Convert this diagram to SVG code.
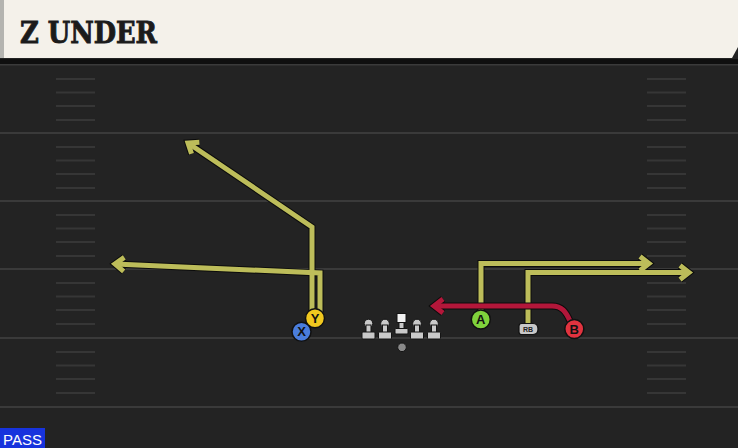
<svg xmlns="http://www.w3.org/2000/svg" width="738" height="448" viewBox="0 0 738 448">
<style>
.yl{stroke:#3a3a3a;stroke-width:2}
.hm{stroke:#363636;stroke-width:2}
.rt-o{fill:none;stroke:#0c0c0c;stroke-width:7;stroke-linejoin:miter}
.rt{fill:none;stroke:#bdbd5a;stroke-width:5;stroke-linejoin:miter}
.rr-o{fill:none;stroke:#0c0c0c;stroke-width:7}
.rr{fill:none;stroke:#b3173a;stroke-width:5}
.pl{stroke:#111;stroke-width:1.5}
.lt{font-family:"Liberation Sans",Arial,sans-serif;font-weight:bold;font-size:13px;fill:#111;text-anchor:middle}
.ln{fill:#c9c9c9;stroke:#141414;stroke-width:1}
</style>
<defs>
<marker id="ao" markerUnits="userSpaceOnUse" markerWidth="30" markerHeight="30" refX="0" refY="0" orient="auto" overflow="visible" viewBox="-15 -15 30 30">
<path d="M-9,-7 L0,0 L-9,7" fill="none" stroke="#0c0c0c" stroke-width="7"/>
</marker>
<marker id="a" markerUnits="userSpaceOnUse" markerWidth="30" markerHeight="30" refX="0" refY="0" orient="auto" overflow="visible" viewBox="-15 -15 30 30">
<path d="M-9,-7 L0,0 L-9,7" fill="none" stroke="#bdbd5a" stroke-width="5"/>
</marker>
<marker id="ar" markerUnits="userSpaceOnUse" markerWidth="30" markerHeight="30" refX="0" refY="0" orient="auto" overflow="visible" viewBox="-15 -15 30 30">
<path d="M-9,-7 L0,0 L-9,7" fill="none" stroke="#b3173a" stroke-width="5"/>
</marker>
<marker id="aro" markerUnits="userSpaceOnUse" markerWidth="30" markerHeight="30" refX="0" refY="0" orient="auto" overflow="visible" viewBox="-15 -15 30 30">
<path d="M-9,-7 L0,0 L-9,7" fill="none" stroke="#0c0c0c" stroke-width="7"/>
</marker>
<g id="lineman">
<circle cx="0" cy="323.5" r="4.3" class="ln"/>
<rect x="-2.5" y="325" width="5" height="8" class="ln"/>
<rect x="-6.5" y="332" width="13" height="7" rx="1" class="ln"/>
</g>
</defs>

<rect x="0" y="0" width="738" height="448" fill="#232323"/>

<g id="field">
<line x1="0" y1="64.5" x2="738" y2="64.5" class="yl"/>
<line x1="0" y1="133" x2="738" y2="133" class="yl"/>
<line x1="0" y1="201" x2="738" y2="201" class="yl"/>
<line x1="0" y1="269" x2="738" y2="269" class="yl"/>
<line x1="0" y1="338" x2="738" y2="338" class="yl"/>
<line x1="0" y1="407" x2="738" y2="407" class="yl"/>
<g id="hashes-left">
<path class="hm" d="M56,79H95M56,92.5H95M56,106H95M56,120H95M56,147H95M56,160.5H95M56,174H95M56,188H95M56,215H95M56,228.5H95M56,242H95M56,256H95M56,283H95M56,296.5H95M56,310H95M56,324H95M56,352H95M56,365.5H95M56,379H95M56,393H95"/>
</g>
<g id="hashes-right">
<path class="hm" d="M647,79H686M647,92.5H686M647,106H686M647,120H686M647,147H686M647,160.5H686M647,174H686M647,188H686M647,215H686M647,228.5H686M647,242H686M647,256H686M647,283H686M647,296.5H686M647,310H686M647,324H686M647,352H686M647,365.5H686M647,379H686M647,393H686"/>
</g>
</g>

<g id="header">
<rect x="0" y="59" width="738" height="5" fill="#0f0f0f"/>
<path d="M0,0 H738 V47 L732,58 H0 Z" fill="#f4f1ea"/>
<rect x="0" y="0" width="4" height="58" fill="#b4b4b0"/>
<text x="20" y="43" font-family="'DejaVu Serif Condensed','DejaVu Serif',serif" font-weight="bold" font-size="29" fill="#1b1b1b" stroke="#1b1b1b" stroke-width="0.8" textLength="137" lengthAdjust="spacingAndGlyphs">Z UNDER</text>
</g>

<g id="connectors">
<path class="rt-o" d="M312,312 V227 L188,143" marker-end="url(#ao)"/>
<path class="rt-o" d="M320,312 V273 L115,264" marker-end="url(#ao)"/>
<path class="rt-o" d="M481,313 V263.5 H649" marker-end="url(#ao)"/>
<path class="rt-o" d="M528,324 V272.5 H689" marker-end="url(#ao)"/>
<path class="rt" d="M312,312 V227 L188,143" marker-end="url(#a)"/>
<path class="rt" d="M320,312 V273 L115,264" marker-end="url(#a)"/>
<path class="rt" d="M481,313 V263.5 H649" marker-end="url(#a)"/>
<path class="rt" d="M528,324 V272.5 H689" marker-end="url(#a)"/>
<path class="rr-o" d="M570,321 C566,312 562,306 552,306 H434" marker-end="url(#aro)"/>
<path class="rr" d="M570,321 C566,312 562,306 552,306 H434" marker-end="url(#ar)"/>
</g>

<g id="line">
<use href="#lineman" x="368.5"/>
<use href="#lineman" x="385"/>
<g id="center">
<rect x="397" y="313.5" width="9" height="9" fill="#f2f2f2" stroke="#141414" stroke-width="1"/>
<rect x="399" y="322.5" width="5" height="7" class="ln"/>
<rect x="395" y="328.5" width="13" height="5.5" rx="1" class="ln"/>
</g>
<use href="#lineman" x="417"/>
<use href="#lineman" x="434"/>
</g>
<g id="qb">
<circle cx="402" cy="347.3" r="4.3" fill="#8a8a8a" stroke="#141414" stroke-width="1"/>
</g>

<g id="X">
<circle cx="301.5" cy="331.7" r="9.5" fill="#4a7ddc" class="pl"/>
<text x="301.5" y="336.4" class="lt">X</text>
</g>
<g id="Y">
<circle cx="315" cy="318.3" r="9.5" fill="#f1c81f" class="pl"/>
<text x="315" y="323" class="lt">Y</text>
</g>
<g id="A">
<circle cx="480.8" cy="319.5" r="9.5" fill="#7fd23c" class="pl"/>
<text x="480.8" y="324.2" class="lt">A</text>
</g>
<g id="RB">
<path d="M519,326 Q519,323.5 521.5,323.5 H533 Q538,323.5 538,329 Q538,334.5 533,334.5 H521.5 Q519,334.5 519,332 Z" fill="#c8c8c8" stroke="#111" stroke-width="1.2"/>
<text x="528" y="331.8" font-family="'Liberation Sans',Arial,sans-serif" font-weight="bold" font-size="7" fill="#222" text-anchor="middle">RB</text>
</g>
<g id="B">
<circle cx="574.3" cy="329" r="9.5" fill="#e1333f" class="pl"/>
<text x="574.3" y="333.7" class="lt">B</text>
</g>

<g id="pass">
<rect x="0" y="428" width="45" height="20" fill="#1733dd"/>
<text x="3" y="444.5" font-family="'Liberation Sans',Arial,sans-serif" font-size="15" fill="#ffffff" textLength="39" lengthAdjust="spacingAndGlyphs">PASS</text>
</g>
</svg>
